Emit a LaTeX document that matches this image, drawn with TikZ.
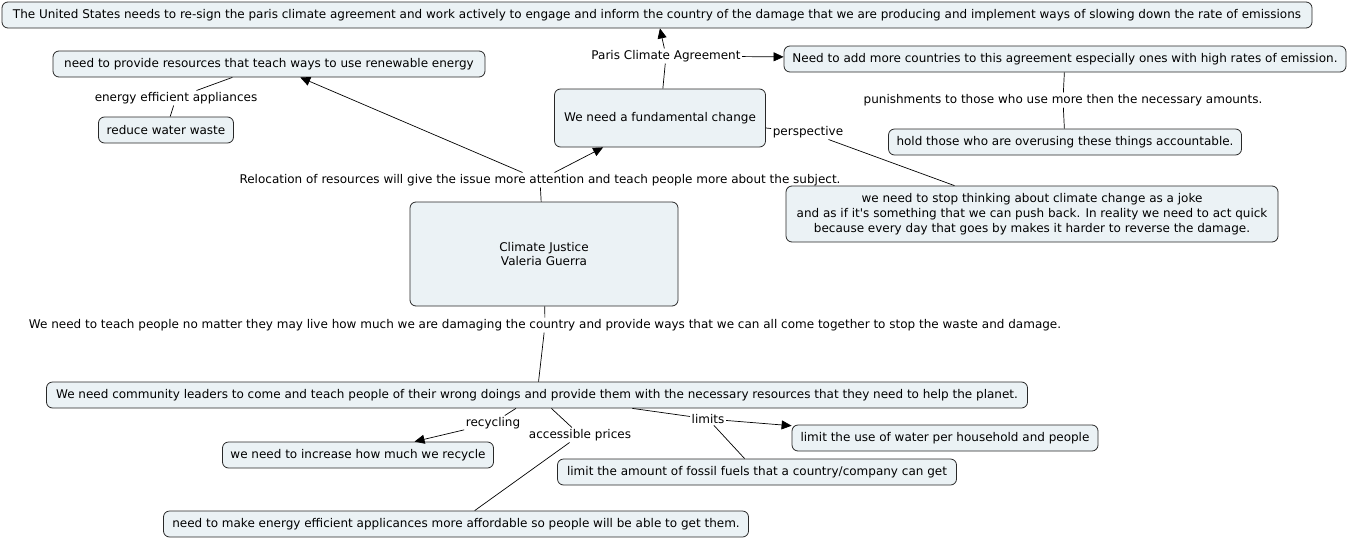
\documentclass[tikz,border=0pt]{standalone}
\usepackage{fontspec}
\setmainfont{DejaVu Sans}
\usetikzlibrary{arrows.meta}

\definecolor{conceptfill}{RGB}{235,242,245}
\definecolor{conceptline}{RGB}{40,40,40}

\tikzset{
  concept/.style={draw=conceptline, line width=0.8pt, fill=conceptfill, rounded corners=6pt, inner xsep=6pt, inner ysep=0pt,
    minimum height=26pt, align=center, font=\fontsize{12}{14.5}\selectfont},
  linkword/.style={inner sep=1.5pt, font=\fontsize{12}{14.5}\selectfont},
  link/.style={draw=black, line width=0.7pt},
  linkarrow/.style={link, -{Triangle[length=10pt,width=9pt]}},
}

\begin{document}
\begin{tikzpicture}[x=1pt, y=-1pt]
    \useasboundingbox (0,0) rectangle (1348,541);

    % Concepts
    \node[concept, minimum width=1310pt] (usa) at (657,15) {The United States needs to re-sign the paris climate agreement and work actively to engage and inform the country of the damage that we are producing and implement ways of slowing down the rate of emissions};
    \node[concept, minimum width=432pt] (renew) at (269,64) {need to provide resources that teach ways to use renewable energy};
    \node[concept, minimum width=135pt] (water) at (166,130) {reduce water waste};
    \node[concept, minimum width=211pt, minimum height=58pt] (change) at (660,118) {We need a fundamental change};
    \node[concept, minimum width=562pt] (morecountries) at (1065,59) {Need to add more countries to this agreement especially ones with high rates of emission.};
    \node[concept, minimum width=353pt] (accountable) at (1065,142) {hold those who are overusing these things accountable.};
    \node[concept, minimum width=492pt, minimum height=56pt, font=\fontsize{12}{15}\selectfont] (joke) at (1032,214) {we need to stop thinking about climate change as a joke\\and as if it\textquotesingle s something that we can push back. In reality we need to act quick\\because every day that goes by makes it harder to reverse the damage.};
    \node[concept, minimum width=268pt, minimum height=104pt] (justice) at (544,254) {Climate Justice\\Valeria Guerra};
    \node[concept, minimum width=981pt] (leaders) at (537,395) {We need community leaders to come and teach people of their wrong doings and provide them with the necessary resources that they need to help the planet.};
    \node[concept, minimum width=271pt] (recycle) at (358,455) {we need to increase how much we recycle};
    \node[concept, minimum width=585pt] (affordable) at (456,524) {need to make energy efficient applicances more affordable so people will be able to get them.};
    \node[concept, minimum width=399pt] (fossil) at (757,472) {limit the amount of fossil fuels that a country/company can get};
    \node[concept, minimum width=306pt] (waterlimit) at (945,438) {limit the use of water per household and people};

    % Linking phrases
    \node[linkword] (paris) at (666,56) {Paris Climate Agreement};
    \node[linkword] (appliances) at (176,98) {energy efficient appliances};
    \node[linkword] (punish) at (1063,100) {punishments to those who use more then the necessary amounts.};
    \node[linkword] (perspective) at (808,132) {perspective};
    \node[linkword] (relocation) at (540,180) {Relocation of resources will give the issue more attention and teach people more about the subject.};
    \node[linkword] (teach) at (545,325) {We need to teach people no matter they may live how much we are damaging the country and provide ways that we can all come together to stop the waste and damage.};
    \node[linkword] (recycling) at (493,423) {recycling};
    \node[linkword] (prices) at (580,435) {accessible prices};
    \node[linkword] (limits) at (708,419) {limits};

    % Connectors
    \draw[link] (change) -- (paris);
    \draw[linkarrow] (paris) -- (usa);
    \draw[linkarrow] (paris) -- (morecountries);
    \draw[link] (morecountries) -- (punish);
    \draw[link] (punish) -- (accountable);
    \draw[link] (change) -- (perspective);
    \draw[link] (perspective) -- (joke);
    \draw[link] (justice) -- (relocation);
    \draw[linkarrow] (relocation) -- (renew);
    \draw[linkarrow] (relocation) -- (change);
    \draw[link] (renew) -- (appliances);
    \draw[link] (appliances) -- (water);
    \draw[link] (justice) -- (teach);
    \draw[link] (teach) -- (leaders);
    \draw[link] (leaders) -- (recycling);
    \draw[linkarrow] (recycling) -- (recycle);
    \draw[link] (leaders) -- (prices);
    \draw[link] (prices) -- (affordable);
    \draw[link] (leaders) -- (limits);
    \draw[linkarrow] (limits) -- (waterlimit);
    \draw[link] (limits) -- (fossil);
\end{tikzpicture}
\end{document}
